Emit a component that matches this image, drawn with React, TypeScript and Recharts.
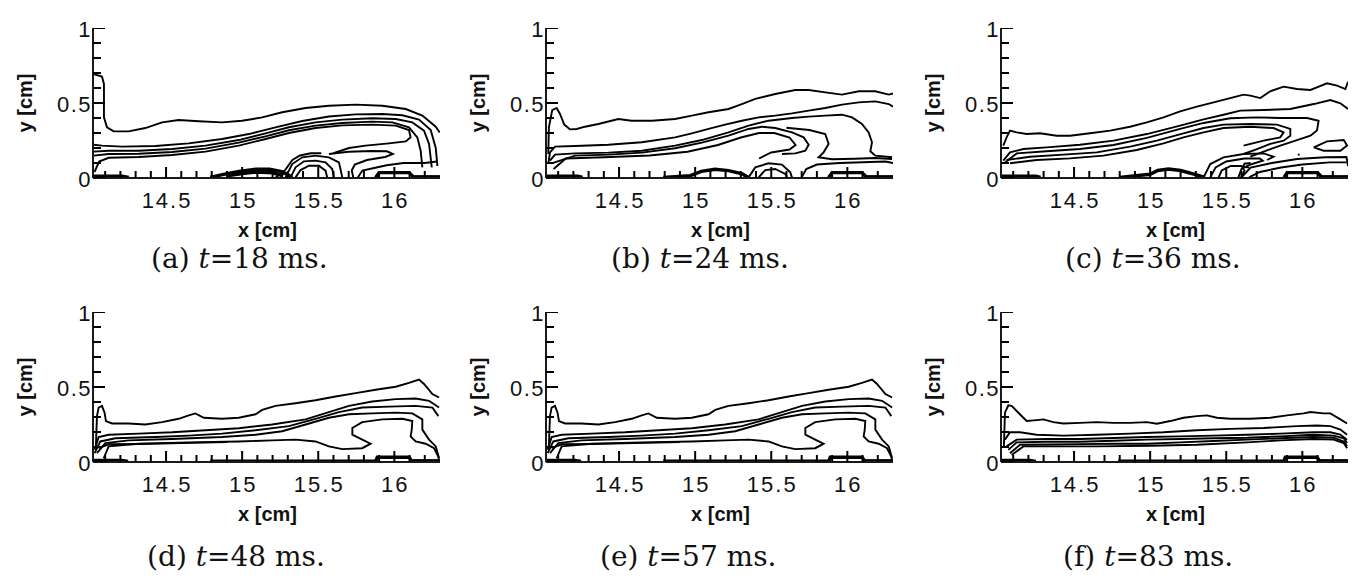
import React from "react";
import { ComposedChart, Line, Scatter, XAxis, YAxis, Label } from "recharts";

type Pt = [number, number];

// axis ticks (minor every 0.1, labelled majors)
const xTicks = [14.1, 14.2, 14.3, 14.4, 14.5, 14.6, 14.7, 14.8, 14.9, 15, 15.1, 15.2, 15.3, 15.4, 15.5, 15.6, 15.7, 15.8, 15.9, 16, 16.1, 16.2];
const xMajor = [14.5, 15, 15.5, 16];
const yTicks = [0, 0.1, 0.2, 0.3, 0.4, 0.5, 0.6, 0.7, 0.8, 0.9, 1];
const yMajor = [0, 0.5, 1];
const xDomain: [number, number] = [14.02, 16.3];

const letters = ["a", "b", "c", "d", "e", "f"];
const times = [18, 24, 36, 48, 57, 83];

// (a) t=18 ms
const contoursA: Pt[][] = [
  [[14.024, 0.693], [14.079, 0.676], [14.092, 0.627], [14.092, 0.404], [14.112, 0.338], [14.156, 0.311], [14.254, 0.311], [14.364, 0.333], [14.474, 0.371], [14.583, 0.387], [14.715, 0.378], [14.868, 0.371], [15.0, 0.382], [15.132, 0.404], [15.263, 0.438], [15.417, 0.467], [15.57, 0.482], [15.746, 0.489], [15.921, 0.482], [16.075, 0.46], [16.184, 0.416], [16.272, 0.342], [16.298, 0.304]],
  [[14.024, 0.222], [14.079, 0.216], [14.211, 0.209], [14.43, 0.213], [14.649, 0.231], [14.868, 0.26], [15.044, 0.293], [15.219, 0.338], [15.395, 0.38], [15.57, 0.41], [15.746, 0.424], [15.921, 0.427], [16.053, 0.418], [16.162, 0.39], [16.239, 0.32], [16.272, 0.2], [16.283, 0.08]],
  [[14.024, 0.176], [14.123, 0.182], [14.32, 0.182], [14.539, 0.193], [14.759, 0.216], [14.978, 0.253], [15.154, 0.298], [15.307, 0.338], [15.482, 0.371], [15.658, 0.389], [15.855, 0.398], [16.009, 0.393], [16.118, 0.371], [16.195, 0.316], [16.228, 0.227], [16.246, 0.071]],
  [[14.024, 0.149], [14.123, 0.16], [14.32, 0.162], [14.539, 0.173], [14.759, 0.196], [14.978, 0.236], [15.154, 0.278], [15.307, 0.318], [15.482, 0.349], [15.658, 0.367], [15.855, 0.376], [15.987, 0.371], [16.096, 0.338], [16.151, 0.271], [16.173, 0.182], [16.184, 0.071]],
  [[14.03, 0.04], [14.06, 0.11], [14.123, 0.135], [14.32, 0.14], [14.539, 0.153], [14.759, 0.176], [14.978, 0.216], [15.154, 0.26], [15.307, 0.3], [15.482, 0.333], [15.658, 0.351], [15.855, 0.356], [16.009, 0.349], [16.096, 0.32], [16.107, 0.271], [16.075, 0.244], [15.965, 0.231], [15.811, 0.216], [15.702, 0.2], [15.6, 0.165]],
  [[15.57, 0.16], [15.7, 0.175], [15.85, 0.18], [15.95, 0.178], [15.99, 0.16], [15.94, 0.14], [15.82, 0.12], [15.74, 0.09], [15.72, 0.05], [15.73, 0.004]],
  [[15.285, 0.004], [15.329, 0.093], [15.395, 0.138], [15.482, 0.149], [15.57, 0.138], [15.636, 0.104], [15.658, 0.004]],
  [[15.318, 0.004], [15.351, 0.071], [15.406, 0.111], [15.482, 0.116], [15.548, 0.104], [15.592, 0.06], [15.603, 0.004]],
  [[15.351, 0.004], [15.384, 0.053], [15.439, 0.082], [15.504, 0.082], [15.548, 0.049], [15.559, 0.004]],
  [[15.22, 0.004], [15.28, 0.05], [15.33, 0.12], [15.38, 0.15], [15.45, 0.165], [15.52, 0.165]],
  [[15.76, 0.004], [15.79, 0.05], [15.86, 0.065], [15.95, 0.085], [16.06, 0.1], [16.2, 0.1], [16.28, 0.11]],
];
const wallsA: Pt[][] = [
  [[14.025, 0.012], [14.21, 0.012], [14.255, 0.004]],
  [[14.79, 0.004], [14.87, 0.022], [14.98, 0.044], [15.09, 0.058], [15.18, 0.058], [15.26, 0.042], [15.31, 0.016], [15.33, 0.004]],
  [[14.9, 0.015], [15.0, 0.03], [15.1, 0.04], [15.2, 0.035], [15.27, 0.015]],
  [[15.877, 0.004], [15.9, 0.036], [16.096, 0.036], [16.13, 0.004]],
  [[16.13, 0.008], [16.3, 0.008]],
];

// (b) t=24 ms
const contoursB: Pt[][] = [
  [[14.035, 0.16], [14.039, 0.338], [14.061, 0.453], [14.09, 0.467], [14.112, 0.427], [14.14, 0.356], [14.178, 0.324], [14.222, 0.327], [14.276, 0.342], [14.364, 0.36], [14.495, 0.393], [14.583, 0.382], [14.715, 0.382], [14.868, 0.393], [14.978, 0.416], [15.088, 0.438], [15.219, 0.46], [15.307, 0.493], [15.395, 0.527], [15.526, 0.56], [15.658, 0.587], [15.746, 0.587], [15.855, 0.571], [15.965, 0.556], [16.075, 0.578], [16.184, 0.578], [16.272, 0.556], [16.3, 0.564]],
  [[14.035, 0.093], [14.046, 0.171], [14.079, 0.209], [14.211, 0.213], [14.43, 0.222], [14.649, 0.238], [14.868, 0.271], [14.978, 0.298], [15.088, 0.327], [15.197, 0.356], [15.307, 0.382], [15.417, 0.404], [15.526, 0.416], [15.636, 0.431], [15.746, 0.449], [15.855, 0.467], [15.965, 0.489], [16.075, 0.504], [16.184, 0.511], [16.272, 0.493], [16.3, 0.476]],
  [[14.046, 0.116], [14.079, 0.156], [14.211, 0.164], [14.43, 0.169], [14.649, 0.182], [14.868, 0.216], [15.044, 0.253], [15.219, 0.304], [15.351, 0.349], [15.482, 0.382], [15.636, 0.4], [15.746, 0.409], [15.855, 0.416], [15.965, 0.422], [16.031, 0.404], [16.096, 0.36], [16.14, 0.304], [16.162, 0.238], [16.151, 0.178], [16.184, 0.149], [16.294, 0.138]],
  [[14.057, 0.098], [14.211, 0.149], [14.43, 0.156], [14.649, 0.169], [14.868, 0.198], [15.044, 0.236], [15.219, 0.282], [15.351, 0.327], [15.439, 0.342], [15.526, 0.333], [15.636, 0.304], [15.713, 0.271], [15.746, 0.222], [15.724, 0.182], [15.658, 0.164], [15.57, 0.16]],
  [[14.07, 0.06], [14.15, 0.13], [14.4, 0.138], [14.7, 0.15], [14.95, 0.175], [15.15, 0.22], [15.3, 0.27], [15.42, 0.3], [15.52, 0.3], [15.62, 0.27], [15.66, 0.22], [15.62, 0.19], [15.5, 0.17], [15.42, 0.13]],
  [[15.6, 0.335], [15.75, 0.32], [15.855, 0.293], [15.877, 0.227], [15.844, 0.171], [15.811, 0.138], [15.899, 0.125], [16.05, 0.128], [16.184, 0.133], [16.294, 0.127]],
  [[15.7, 0.004], [15.73, 0.06], [15.8, 0.09], [15.95, 0.1], [16.1, 0.105], [16.25, 0.11], [16.3, 0.1]],
  [[15.351, 0.004], [15.395, 0.071], [15.482, 0.098], [15.57, 0.089], [15.625, 0.038], [15.636, 0.004]],
  [[15.417, 0.004], [15.461, 0.053], [15.526, 0.06], [15.592, 0.027], [15.603, 0.004]],
];
const wallsB: Pt[][] = [
  [[14.025, 0.012], [14.23, 0.012], [14.26, 0.004]],
  [[14.79, 0.004], [14.97, 0.016], [15.04, 0.044], [15.13, 0.058], [15.22, 0.049], [15.31, 0.027], [15.35, 0.004]],
  [[15.877, 0.004], [15.9, 0.036], [16.096, 0.036], [16.13, 0.004]],
  [[16.13, 0.008], [16.3, 0.008]],
];

// (c) t=36 ms
const contoursC: Pt[][] = [
  [[14.035, 0.216], [14.057, 0.271], [14.079, 0.316], [14.123, 0.304], [14.189, 0.293], [14.276, 0.298], [14.386, 0.282], [14.474, 0.282], [14.605, 0.298], [14.737, 0.316], [14.868, 0.342], [14.978, 0.371], [15.088, 0.404], [15.197, 0.444], [15.307, 0.476], [15.417, 0.504], [15.526, 0.533], [15.614, 0.556], [15.658, 0.549], [15.724, 0.533], [15.789, 0.578], [15.877, 0.609], [15.965, 0.593], [16.053, 0.587], [16.096, 0.604], [16.162, 0.631], [16.228, 0.616], [16.283, 0.593], [16.3, 0.642]],
  [[14.035, 0.116], [14.079, 0.171], [14.167, 0.193], [14.32, 0.204], [14.539, 0.222], [14.759, 0.249], [14.978, 0.293], [15.197, 0.349], [15.351, 0.391], [15.482, 0.422], [15.592, 0.449], [15.746, 0.453], [15.921, 0.46], [16.075, 0.493], [16.184, 0.52], [16.25, 0.498], [16.3, 0.46]],
  [[14.046, 0.104], [14.123, 0.164], [14.32, 0.178], [14.539, 0.193], [14.759, 0.22], [14.978, 0.267], [15.197, 0.327], [15.351, 0.367], [15.526, 0.398], [15.702, 0.404], [15.855, 0.4], [16.031, 0.4], [16.107, 0.382], [16.096, 0.316], [16.053, 0.282], [15.965, 0.253], [15.855, 0.216], [15.746, 0.176], [15.658, 0.142]],
  [[14.057, 0.12], [14.211, 0.142], [14.43, 0.156], [14.649, 0.171], [14.868, 0.209], [15.044, 0.249], [15.219, 0.298], [15.351, 0.333], [15.482, 0.356], [15.658, 0.36], [15.833, 0.356], [15.921, 0.327], [15.921, 0.282], [15.877, 0.249], [15.789, 0.227], [15.702, 0.193], [15.614, 0.16]],
  [[14.079, 0.098], [14.254, 0.12], [14.474, 0.131], [14.693, 0.149], [14.912, 0.187], [15.088, 0.231], [15.219, 0.271], [15.351, 0.304], [15.482, 0.333], [15.658, 0.342], [15.811, 0.333], [15.877, 0.304], [15.855, 0.271], [15.746, 0.249], [15.614, 0.216]],
  [[15.351, 0.004], [15.395, 0.093], [15.482, 0.138], [15.614, 0.16], [15.746, 0.164], [15.811, 0.142], [15.768, 0.12]],
  [[15.395, 0.004], [15.43, 0.07], [15.5, 0.11], [15.62, 0.13], [15.72, 0.13], [15.74, 0.115], [15.66, 0.09], [15.6, 0.06], [15.58, 0.004]],
  [[15.45, 0.004], [15.47, 0.05], [15.53, 0.08], [15.6, 0.08], [15.62, 0.05], [15.6, 0.004]],
  [[15.6, 0.004], [15.66, 0.07], [15.8, 0.1], [15.965, 0.127], [16.15, 0.138], [16.29, 0.14], [16.3, 0.08]],
  [[15.65, 0.004], [15.72, 0.04], [15.86, 0.07], [16.0, 0.09], [16.18, 0.104], [16.29, 0.104]],
  [[16.075, 0.204], [16.162, 0.244], [16.272, 0.253], [16.294, 0.216], [16.25, 0.182], [16.14, 0.182], [16.075, 0.204]],
  [[15.66, 0.1], [15.62, 0.095], [15.61, 0.075], [15.65, 0.07]],
  [[15.97, 0.156], [15.982, 0.156]],
];
const wallsC: Pt[][] = [
  [[14.025, 0.012], [14.25, 0.012], [14.28, 0.004]],
  [[14.8, 0.004], [15.0, 0.025], [15.05, 0.05], [15.12, 0.06], [15.2, 0.05], [15.3, 0.022], [15.36, 0.004]],
  [[15.88, 0.004], [15.9, 0.036], [16.1, 0.036], [16.13, 0.004]],
  [[16.13, 0.008], [16.3, 0.008]],
];

// (d) t=48 ms
const contoursD: Pt[][] = [
  [[14.039, 0.104], [14.046, 0.306], [14.057, 0.363], [14.079, 0.374], [14.096, 0.329], [14.105, 0.273], [14.145, 0.257], [14.254, 0.257], [14.364, 0.25], [14.474, 0.266], [14.583, 0.288], [14.649, 0.311], [14.693, 0.324], [14.748, 0.295], [14.868, 0.288], [14.978, 0.295], [15.088, 0.318], [15.132, 0.347], [15.219, 0.374], [15.351, 0.392], [15.482, 0.412], [15.614, 0.437], [15.746, 0.459], [15.877, 0.482], [16.009, 0.502], [16.096, 0.527], [16.162, 0.55], [16.195, 0.52], [16.25, 0.453], [16.294, 0.43]],
  [[14.031, 0.081], [14.057, 0.167], [14.123, 0.182], [14.32, 0.189], [14.539, 0.198], [14.759, 0.212], [14.978, 0.225], [15.197, 0.25], [15.417, 0.284], [15.57, 0.333], [15.702, 0.374], [15.855, 0.403], [16.009, 0.419], [16.14, 0.423], [16.228, 0.408], [16.294, 0.363]],
  [[14.031, 0.059], [14.068, 0.137], [14.167, 0.158], [14.43, 0.167], [14.649, 0.176], [14.868, 0.189], [15.088, 0.212], [15.307, 0.239], [15.482, 0.288], [15.636, 0.333], [15.789, 0.363], [15.965, 0.369], [16.14, 0.374], [16.25, 0.363], [16.289, 0.306]],
  [[14.046, 0.059], [14.101, 0.126], [14.254, 0.144], [14.539, 0.153], [14.868, 0.167], [15.088, 0.182], [15.263, 0.205], [15.417, 0.25], [15.57, 0.295], [15.702, 0.318], [15.855, 0.324], [16.009, 0.329], [16.118, 0.324], [16.184, 0.284], [16.184, 0.216], [16.228, 0.149], [16.272, 0.104], [16.294, 0.025]],
  [[14.09, 0.025], [14.123, 0.104], [14.32, 0.122], [14.649, 0.131], [14.978, 0.137], [15.197, 0.144], [15.351, 0.149], [15.482, 0.137], [15.57, 0.104], [15.658, 0.086], [15.789, 0.092], [15.844, 0.122], [15.789, 0.149], [15.724, 0.182], [15.724, 0.227], [15.789, 0.266], [15.921, 0.284], [16.053, 0.288], [16.118, 0.273], [16.114, 0.212], [16.107, 0.171], [16.14, 0.137], [16.206, 0.122], [16.261, 0.092], [16.289, 0.036], [16.294, 0.002]],
  [[14.057, 0.092], [14.123, 0.118], [14.32, 0.12], [14.6, 0.126], [14.9, 0.133]],
];
const wallsD: Pt[][] = [
  [[14.025, 0.01], [14.21, 0.01], [14.25, 0.004]],
  [[14.79, 0.005], [15.88, 0.005]],
  [[15.877, 0.002], [15.888, 0.032], [16.096, 0.032], [16.118, 0.002]],
  [[16.118, 0.008], [16.3, 0.008]],
];

// (e) t=57 ms: the field in the source figure is the same as (d)
const contoursE: Pt[][] = contoursD;
const wallsE: Pt[][] = wallsD;

// (f) t=83 ms
const contoursF: Pt[][] = [
  [[14.039, 0.104], [14.046, 0.329], [14.068, 0.378], [14.09, 0.374], [14.123, 0.34], [14.167, 0.295], [14.189, 0.273], [14.254, 0.279], [14.298, 0.284], [14.364, 0.266], [14.43, 0.257], [14.539, 0.261], [14.649, 0.266], [14.759, 0.261], [14.868, 0.261], [14.978, 0.266], [15.044, 0.255], [15.132, 0.273], [15.219, 0.295], [15.307, 0.306], [15.373, 0.311], [15.439, 0.295], [15.526, 0.288], [15.658, 0.288], [15.789, 0.295], [15.899, 0.311], [16.009, 0.324], [16.053, 0.333], [16.14, 0.324], [16.184, 0.324], [16.25, 0.284], [16.294, 0.257]],
  [[14.046, 0.149], [14.079, 0.198], [14.145, 0.198], [14.254, 0.182], [14.43, 0.176], [14.649, 0.182], [14.868, 0.189], [15.088, 0.198], [15.307, 0.212], [15.526, 0.221], [15.746, 0.227], [15.965, 0.239], [16.096, 0.243], [16.184, 0.239], [16.25, 0.216], [16.294, 0.182]],
  [[14.057, 0.104], [14.123, 0.149], [14.32, 0.153], [14.539, 0.153], [14.759, 0.16], [14.978, 0.167], [15.197, 0.171], [15.417, 0.176], [15.636, 0.182], [15.855, 0.189], [16.075, 0.198], [16.184, 0.198], [16.25, 0.182], [16.294, 0.149]],
  [[14.068, 0.081], [14.123, 0.131], [14.32, 0.135], [14.539, 0.135], [14.759, 0.142], [14.978, 0.149], [15.197, 0.153], [15.417, 0.158], [15.636, 0.162], [15.855, 0.171], [16.075, 0.182], [16.206, 0.176], [16.272, 0.158], [16.294, 0.126]],
  [[14.079, 0.059], [14.145, 0.115], [14.32, 0.117], [14.539, 0.119], [14.759, 0.122], [14.978, 0.122], [15.197, 0.131], [15.417, 0.14], [15.636, 0.149], [15.855, 0.158], [16.075, 0.167], [16.206, 0.162], [16.272, 0.137], [16.294, 0.104]],
  [[14.09, 0.047], [14.167, 0.104], [14.32, 0.104], [14.649, 0.104], [15.0, 0.108], [15.307, 0.115], [15.636, 0.131], [15.855, 0.144], [16.075, 0.153], [16.206, 0.149], [16.272, 0.126], [16.294, 0.092]],
];
const wallsF: Pt[][] = [
  [[14.025, 0.01], [14.21, 0.01], [14.25, 0.004]],
  [[14.79, 0.005], [15.88, 0.005]],
  [[15.877, 0.002], [15.888, 0.032], [16.096, 0.032], [16.118, 0.002]],
  [[16.118, 0.008], [16.3, 0.008]],
];

const panelData = [
  { contours: contoursA, walls: wallsA },
  { contours: contoursB, walls: wallsB },
  { contours: contoursC, walls: wallsC },
  { contours: contoursD, walls: wallsD },
  { contours: contoursE, walls: wallsE },
  { contours: contoursF, walls: wallsF },
];

// page placement of each plot area (y axis x, y=1 top) and caption start / centre line
const layout = [
  { left: 93, top: 28, capX: 151, capY: 259 },
  { left: 546, top: 28, capX: 611, capY: 259 },
  { left: 1001, top: 28, capX: 1065, capY: 259 },
  { left: 93, top: 312, capX: 147, capY: 557 },
  { left: 546, top: 312, capX: 600, capY: 557 },
  { left: 1001, top: 312, capX: 1063, capY: 557 },
];

const AXIS = "#1a1a1a";
const SANS = "'Liberation Sans', Arial, Helvetica, sans-serif";
const isIn = (list: number[], v: number) => list.some((m) => Math.abs(m - v) < 1e-6);
const toPts = (arr: Pt[]) => arr.map(([x, y]) => ({ x, y }));

// tick marks: placed through the chart scales at the tick values, pointing into the plot
const xMinorMarks = xTicks.filter((v) => !isIn(xMajor, v)).map((x) => ({ x, y: 0 }));
const xMajorMarks = xTicks.filter((v) => isIn(xMajor, v)).map((x) => ({ x, y: 0 }));
const yMinorMarks = yTicks.filter((v) => !isIn(yMajor, v)).map((y) => ({ x: xDomain[0], y }));
const yMajorMarks = yTicks.filter((v) => isIn(yMajor, v)).map((y) => ({ x: xDomain[0], y }));

const upMark = (len: number) => (p: any) => (
  <path d={`M${p.cx},${p.cy}V${p.cy - len}`} stroke="#000" strokeWidth={2} fill="none" />
);
const rightMark = (len: number) => (p: any) => (
  <path d={`M${p.cx},${p.cy}H${p.cx + len}`} stroke="#000" strokeWidth={2} fill="none" />
);

const XTick = ({ x, y, payload }: any) => {
  if (!isIn(xMajor, payload.value)) return <g />;
  return (
    <text x={x + 1} y={y + 22} textAnchor="middle" dominantBaseline="central" fontFamily={SANS} fontSize={22} letterSpacing={2} fill="#111">
      {String(payload.value)}
    </text>
  );
};

const YTick = ({ x, y, payload }: any) => {
  if (!isIn(yMajor, payload.value)) return <g />;
  return (
    <text x={x - 1} y={y + 1} textAnchor="end" dominantBaseline="central" fontFamily={SANS} fontSize={22} letterSpacing={1.5} fill="#111">
      {String(payload.value)}
    </text>
  );
};

const XTitle = (props: any) => {
  const vb = props.viewBox || { x: 93, y: 160, width: 347, height: 75 };
  return (
    <text x={vb.x + vb.width / 2 + 1} y={vb.y + 52} textAnchor="middle" dominantBaseline="central" fontFamily={SANS} fontWeight="bold" fontSize={20} fill="#111">
      x [cm]
    </text>
  );
};

const YTitle = (props: any) => {
  const vb = props.viewBox || { x: 0, y: 10, width: 93, height: 150 };
  const cx = vb.x + vb.width - 68;
  const cy = vb.y + vb.height / 2;
  return (
    <text x={cx} y={cy} transform={`rotate(-90 ${cx} ${cy})`} textAnchor="middle" dominantBaseline="central" fontFamily={SANS} fontWeight="bold" fontSize={20} fill="#111">
      y [cm]
    </text>
  );
};

function Panel({ contours, walls }: { contours: Pt[][]; walls: Pt[][] }) {
  return (
    <ComposedChart width={452} height={235} margin={{ top: 10, right: 12, bottom: 0, left: 0 }}>
      <XAxis
        type="number"
        dataKey="x"
        domain={xDomain}
        allowDataOverflow
        ticks={xTicks}
        interval={0}
        tickSize={0}
        tickMargin={0}
        tickLine={false}
        tick={<XTick />}
        axisLine={{ stroke: AXIS, strokeWidth: 2 }}
        height={75}
      >
        <Label content={XTitle} />
      </XAxis>
      <YAxis
        type="number"
        dataKey="y"
        domain={[0, 1]}
        allowDataOverflow
        ticks={yTicks}
        interval={0}
        tickSize={0}
        tickMargin={0}
        tickLine={false}
        tick={<YTick />}
        axisLine={{ stroke: AXIS, strokeWidth: 2 }}
        width={93}
      >
        <Label content={YTitle} />
      </YAxis>
      <Scatter data={xMinorMarks} shape={upMark(7)} isAnimationActive={false} legendType="none" />
      <Scatter data={xMajorMarks} shape={upMark(11)} isAnimationActive={false} legendType="none" />
      <Scatter data={yMinorMarks} shape={rightMark(8)} isAnimationActive={false} legendType="none" />
      <Scatter data={yMajorMarks} shape={rightMark(12)} isAnimationActive={false} legendType="none" />
      {contours.map((c, i) => (
        <Line
          key={`c${i}`}
          data={toPts(c)}
          dataKey="y"
          type="linear"
          stroke="#000"
          strokeWidth={1.9}
          dot={false}
          activeDot={false}
          isAnimationActive={false}
        />
      ))}
      {walls.map((w, i) => (
        <Line
          key={`w${i}`}
          data={toPts(w)}
          dataKey="y"
          type="linear"
          stroke="#000"
          strokeWidth={3.4}
          dot={false}
          activeDot={false}
          isAnimationActive={false}
        />
      ))}
    </ComposedChart>
  );
}

export default function App() {
  return (
    <div style={{ position: "absolute", left: 0, top: 0, width: 1359, height: 586, overflow: "hidden", background: "#fff" }}>
      {panelData.map((p, i) => {
        const pos = layout[i];
        return (
          <React.Fragment key={letters[i]}>
            <div style={{ position: "absolute", left: pos.left - 93, top: pos.top - 10 }}>
              <Panel contours={p.contours} walls={p.walls} />
            </div>
            <div
              style={{
                position: "absolute",
                left: pos.capX,
                top: pos.capY - 17,
                fontFamily: "'DejaVu Serif', serif",
                fontSize: 28,
                lineHeight: "34px",
                color: "#111",
                whiteSpace: "nowrap",
              }}
            >
              ({letters[i]}) <i>t</i>={times[i]} ms.
            </div>
          </React.Fragment>
        );
      })}
    </div>
  );
}
